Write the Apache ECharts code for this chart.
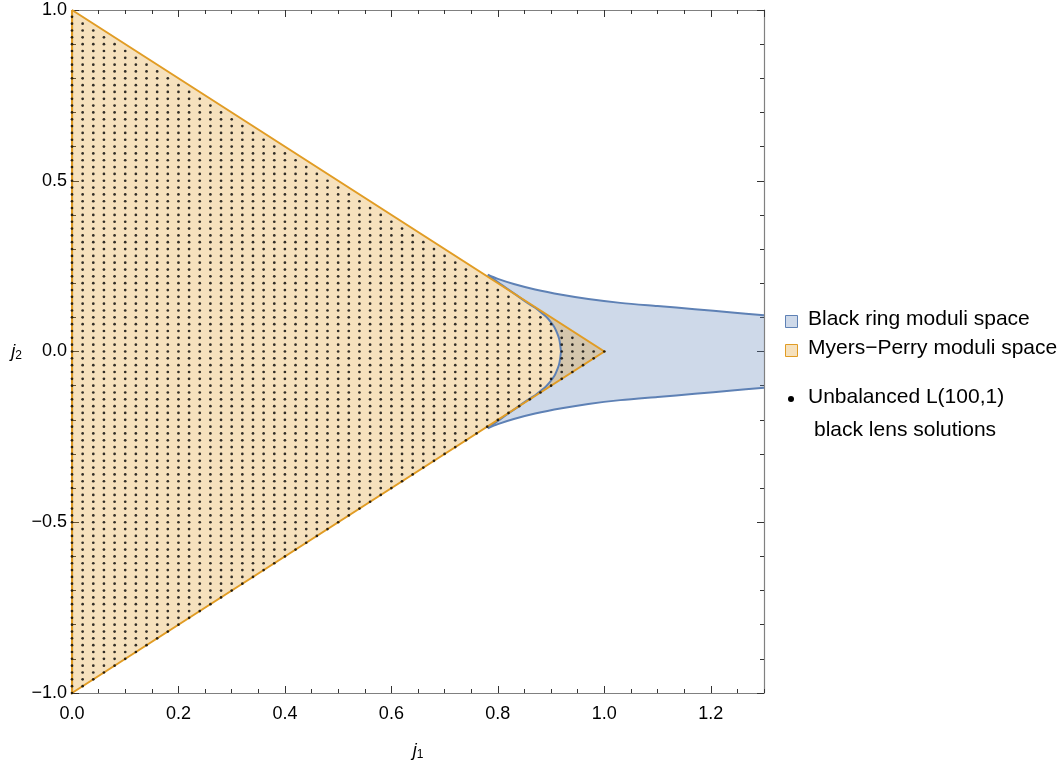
<!DOCTYPE html>
<html>
<head>
<meta charset="utf-8">
<script src="https://cdn.jsdelivr.net/npm/echarts@6/dist/echarts.min.js"></script>
<style>
html,body{margin:0;padding:0;background:#fff;overflow:hidden;}
#chart{width:1063px;height:100vh;}
</style>
</head>
<body>
<div id="chart"></div>
<script>
// ---- Data ----
// Myers–Perry moduli space (triangle)
const mpJ1 = [0, 1, 0];
const mpJ2 = [1, 0, -1];

// Black ring moduli space: outer (upper) boundary
const brUpperJ1 = [0.781, 0.800, 0.830, 0.870, 0.920, 0.970, 1.030, 1.100, 1.170, 1.240, 1.300];
const brUpperJ2 = [0.2247, 0.2125, 0.1975, 0.1815, 0.1660, 0.1535, 0.1424, 0.1330, 0.1240, 0.1145, 0.1058];
// outer (lower) boundary
const brLowerJ1 = [0.781, 0.800, 0.830, 0.870, 0.920, 0.970, 1.030, 1.100, 1.170, 1.240, 1.300];
const brLowerJ2 = [-0.2247, -0.2125, -0.1975, -0.1815, -0.1660, -0.1535, -0.1424, -0.1330, -0.1240, -0.1145, -0.1058];
// inner boundary (upper half, from corner to the vertex at sqrt(27/32))
const brInnerUpJ1 = [0.781, 0.810, 0.835, 0.855, 0.870, 0.880, 0.890, 0.898, 0.906, 0.911, 0.915, 0.917, 0.9186];
const brInnerUpJ2 = [0.2247, 0.1920, 0.1650, 0.1430, 0.1280, 0.1160, 0.1030, 0.0890, 0.0720, 0.0550, 0.0380, 0.0210, 0.0];
// inner boundary (lower half)
const brInnerLoJ1 = [0.781, 0.810, 0.835, 0.855, 0.870, 0.880, 0.890, 0.898, 0.906, 0.911, 0.915, 0.917, 0.9186];
const brInnerLoJ2 = [-0.2247, -0.1920, -0.1650, -0.1430, -0.1280, -0.1160, -0.1030, -0.0890, -0.0720, -0.0550, -0.0380, -0.0210, 0.0];

// Unbalanced L(100,1) black lens solutions: lattice of (j1, j2) with step 0.02 inside the triangle
const lensStep = 0.02;
const lensColumns = 50;   // j1 = 0 .. 1
const lensRows = 50;      // j2 = -1 .. 1
const lensPoints = [];
for (let i = 0; i <= lensColumns; i++) {
  for (let k = -lensRows; k <= lensRows; k++) {
    const inside = k > 0 ? (i + k < 50) : (i - k <= 50);
    if (inside) lensPoints.push([+(i * lensStep).toFixed(2), +(k * lensStep).toFixed(2)]);
  }
}

// Axis ticks
const xMin = 0, xMax = 1.3, xMajor = 0.2, xMinor = 0.05;
const yMin = -1, yMax = 1, yMajor = 0.5, yMinor = 0.1;

const legendItems = ['Black ring moduli space', 'Myers\u2212Perry moduli space', 'Unbalanced L(100,1)', 'black lens solutions'];

// ---- Styles ----
const FONT = '"Liberation Sans", Arial, sans-serif';
const blue = '#5E81B5', orange = '#E19C24';
const blueFill = 'rgba(94,129,181,0.3)', orangeFill = 'rgba(225,156,36,0.3)';

function zip(a, b) { return a.map((v, i) => [v, b[i]]); }

const blueRegion = [].concat(
  zip(brUpperJ1, brUpperJ2),
  zip(brLowerJ1, brLowerJ2).reverse(),
  zip(brInnerLoJ1, brInnerLoJ2),
  zip(brInnerUpJ1, brInnerUpJ2).reverse()
);
const mpRegion = zip(mpJ1, mpJ2);

function shapeSeries(name, polys, kind, style, z, smooth) {
  return {
    type: 'custom', name: name, z: z, silent: true,
    xAxisIndex: 0, yAxisIndex: 0,
    data: [[0, 0]],
    renderItem: function (params, api) {
      const children = polys.map(function (p) {
        const pts = p.map(function (q) { return api.coord(q); });
        return { type: kind, shape: { points: pts, smooth: smooth || 0 }, style: style };
      });
      return { type: 'group', children: children };
    }
  };
}

const tickLabelStyle = { fontFamily: FONT, fontSize: 18, color: '#000' };
const axisLineStyle = { color: '#808080', width: 1.2 };
const tickStyle = { color: '#333', width: 1 };

function fmt(v) { return (v < 0 ? '\u2212' : '') + Math.abs(v).toFixed(1); }

function xAx(pos, interval, len, labels, line, extra) {
  return Object.assign({
    type: 'value', min: xMin, max: xMax, interval: interval, position: pos,
    axisLine: { show: line, onZero: false, lineStyle: axisLineStyle },
    axisTick: { show: true, inside: true, length: len, lineStyle: tickStyle },
    axisLabel: labels ? Object.assign({ show: true, showMaxLabel: false, formatter: fmt, margin: 12 }, tickLabelStyle) : { show: false },
    splitLine: { show: false }
  }, extra || {});
}
function yAx(pos, interval, len, labels, line, extra) {
  return Object.assign({
    type: 'value', min: yMin, max: yMax, interval: interval, position: pos,
    axisLine: { show: line, onZero: false, lineStyle: axisLineStyle },
    axisTick: { show: true, inside: true, length: len, lineStyle: tickStyle },
    axisLabel: labels ? Object.assign({ show: true, formatter: fmt, margin: 5 }, tickLabelStyle) : { show: false },
    splitLine: { show: false }
  }, extra || {});
}

const nameRich = {
  j: { fontFamily: FONT, fontSize: 18, fontStyle: 'italic', color: '#000' },
  s: { fontFamily: FONT, fontSize: 12, color: '#000', padding: [8, 0, 0, 0] }
};

const dom = document.getElementById('chart');
const H = dom.clientHeight || window.innerHeight || 766;

const option = {
  animation: false,
  backgroundColor: '#fff',
  grid: { left: 72, right: 299, top: 10, bottom: Math.max(40, H - 698), containLabel: false },
  xAxis: [
    xAx('bottom', xMajor, 7, true, true, {
      name: '{j|j}{s|1}', nameLocation: 'middle', nameGap: 48,
      nameTextStyle: { rich: nameRich }
    }),
    xAx('bottom', xMinor, 4, false, false),
    xAx('top', xMajor, 7, false, true),
    xAx('top', xMinor, 4, false, false)
  ],
  yAxis: [
    yAx('left', yMajor, 7, true, true, {
      name: '{j|j}{s|2}', nameLocation: 'middle', nameGap: 50, nameRotate: 0,
      nameTextStyle: { rich: nameRich }
    }),
    yAx('left', yMinor, 4, false, false),
    yAx('right', yMajor, 7, false, true),
    yAx('right', yMinor, 4, false, false)
  ],
  series: [
    shapeSeries('Black ring moduli space', [blueRegion], 'polygon', { fill: blueFill, stroke: 'none' }, 1),
    shapeSeries('Myers\u2212Perry moduli space', [mpRegion], 'polygon', { fill: orangeFill, stroke: 'none' }, 2),
    shapeSeries('Black ring boundary', [
      zip(brUpperJ1, brUpperJ2), zip(brLowerJ1, brLowerJ2),
      zip(brInnerUpJ1, brInnerUpJ2), zip(brInnerLoJ1, brInnerLoJ2)
    ], 'polyline', { fill: 'none', stroke: blue, lineWidth: 2 }, 3, 0.3),
    shapeSeries('Myers\u2212Perry boundary', [mpRegion.concat([mpRegion[0]])], 'polyline', { fill: 'none', stroke: orange, lineWidth: 2 }, 4),
    {
      type: 'scatter', name: 'Unbalanced L(100,1) black lens solutions', z: 5, silent: true,
      xAxisIndex: 0, yAxisIndex: 0,
      symbol: 'circle', symbolSize: 2.7,
      itemStyle: { color: '#000' },
      data: lensPoints
    }
  ],
  graphic: [
    { type: 'rect', left: 785, top: 315, shape: { width: 12, height: 12 }, style: { fill: blueFill, stroke: blue, lineWidth: 1 } },
    { type: 'text', left: 808, top: 309, style: { text: legendItems[0], font: '21px ' + FONT, fill: '#000' } },
    { type: 'rect', left: 785, top: 344, shape: { width: 12, height: 12 }, style: { fill: orangeFill, stroke: orange, lineWidth: 1 } },
    { type: 'text', left: 808, top: 338, style: { text: legendItems[1], font: '21px ' + FONT, fill: '#000' } },
    { type: 'circle', shape: { cx: 791, cy: 399, r: 3 }, style: { fill: '#000' } },
    { type: 'text', left: 808, top: 387, style: { text: legendItems[2], font: '21px ' + FONT, fill: '#000' } },
    { type: 'text', left: 814, top: 420, style: { text: legendItems[3], font: '21px ' + FONT, fill: '#000' } }
  ]
};

const chart = echarts.init(dom, null, { renderer: 'canvas' });
chart.setOption(option);
</script>
</body>
</html>
